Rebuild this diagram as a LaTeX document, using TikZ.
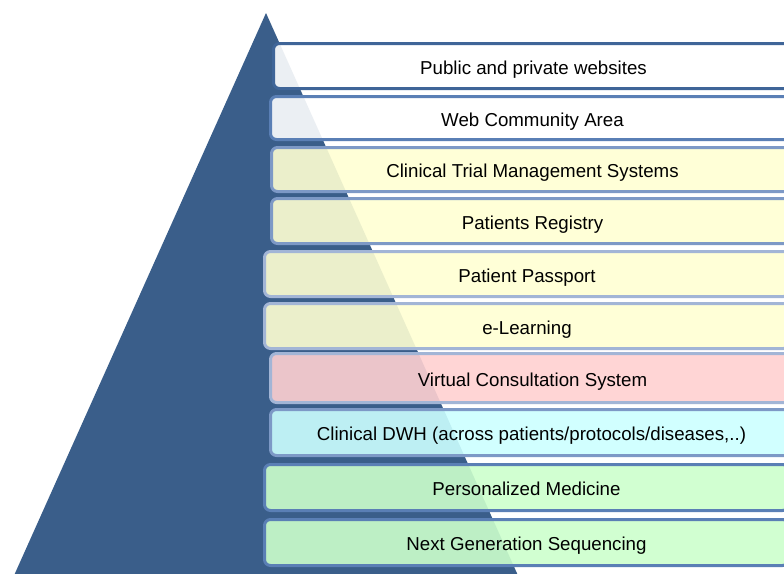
\documentclass[tikz,border=0pt]{standalone}
\usepackage{fontspec}
\setmainfont{Liberation Sans}
\definecolor{pyramid}{HTML}{3A5E8A}
\definecolor{fillwhite}{HTML}{FFFFFF}
\definecolor{fillyellow}{HTML}{FFFFD3}
\definecolor{fillpink}{HTML}{FFD1D1}
\definecolor{fillcyan}{HTML}{CCFFFF}
\definecolor{fillgreen}{HTML}{CCFFCC}
\definecolor{edgedark}{HTML}{3F6598}
\definecolor{edgemid}{HTML}{5A7FB5}
\definecolor{edgesoft}{HTML}{7D99C6}
\definecolor{edgelight}{HTML}{A2B5D6}
\tikzset{
  layer/.style={draw, rounded corners=6pt, line width=3pt, fill opacity=0.9,
    text opacity=1, inner sep=0pt, text height=17pt, text depth=1pt,
    font=\fontsize{18.7}{22}\selectfont},
}
\begin{document}
\begin{tikzpicture}[x=1pt,y=-1pt]
  \useasboundingbox (0,0) rectangle (784,573);
  \clip (0,0) rectangle (784,573);
  \fill[white] (0,0) rectangle (784,573);
  % the pyramid behind the layers
  \fill[pyramid] (266,13) -- (12,580) -- (520,580) -- cycle;
  % layers, top to bottom
  \node[layer, fill=fillwhite, draw=edgedark, minimum width=520pt, minimum height=45pt] (b1) at (533.5,66) {Public and private websites};
  \node[layer, fill=fillwhite, draw=edgemid, minimum width=524pt, minimum height=43pt] (b2) at (532.5,118) {Web Community Area};
  \node[layer, fill=fillyellow, draw=edgesoft, minimum width=522pt, minimum height=44pt] (b3) at (532.5,169.5) {Clinical Trial Management Systems};
  \node[layer, fill=fillyellow, draw=edgesoft, minimum width=522pt, minimum height=45pt] (b4) at (532.5,221) {Patients Registry};
  \node[layer, fill=fillyellow, draw=edgelight, minimum width=525pt, minimum height=45pt] (b5) at (527,274) {Patient Passport};
  \node[layer, fill=fillyellow, draw=edgelight, minimum width=525pt, minimum height=45pt] (b6) at (527,326) {e-Learning};
  \node[layer, fill=fillpink, draw=edgelight, minimum width=524pt, minimum height=49pt] (b7) at (532.5,378) {Virtual Consultation System};
  \node[layer, fill=fillcyan, draw=edgesoft, minimum width=522pt, minimum height=46pt] (b8) at (531.5,432.5) {Clinical DWH (across patients/protocols/diseases,..)};
  \node[layer, fill=fillgreen, draw=edgemid, minimum width=524pt, minimum height=46pt] (b9) at (526.5,487.5) {Personalized Medicine};
  \node[layer, fill=fillgreen, draw=edgemid, minimum width=524pt, minimum height=46pt] (b10) at (526.5,542.5) {Next Generation Sequencing};
\end{tikzpicture}
\end{document}
